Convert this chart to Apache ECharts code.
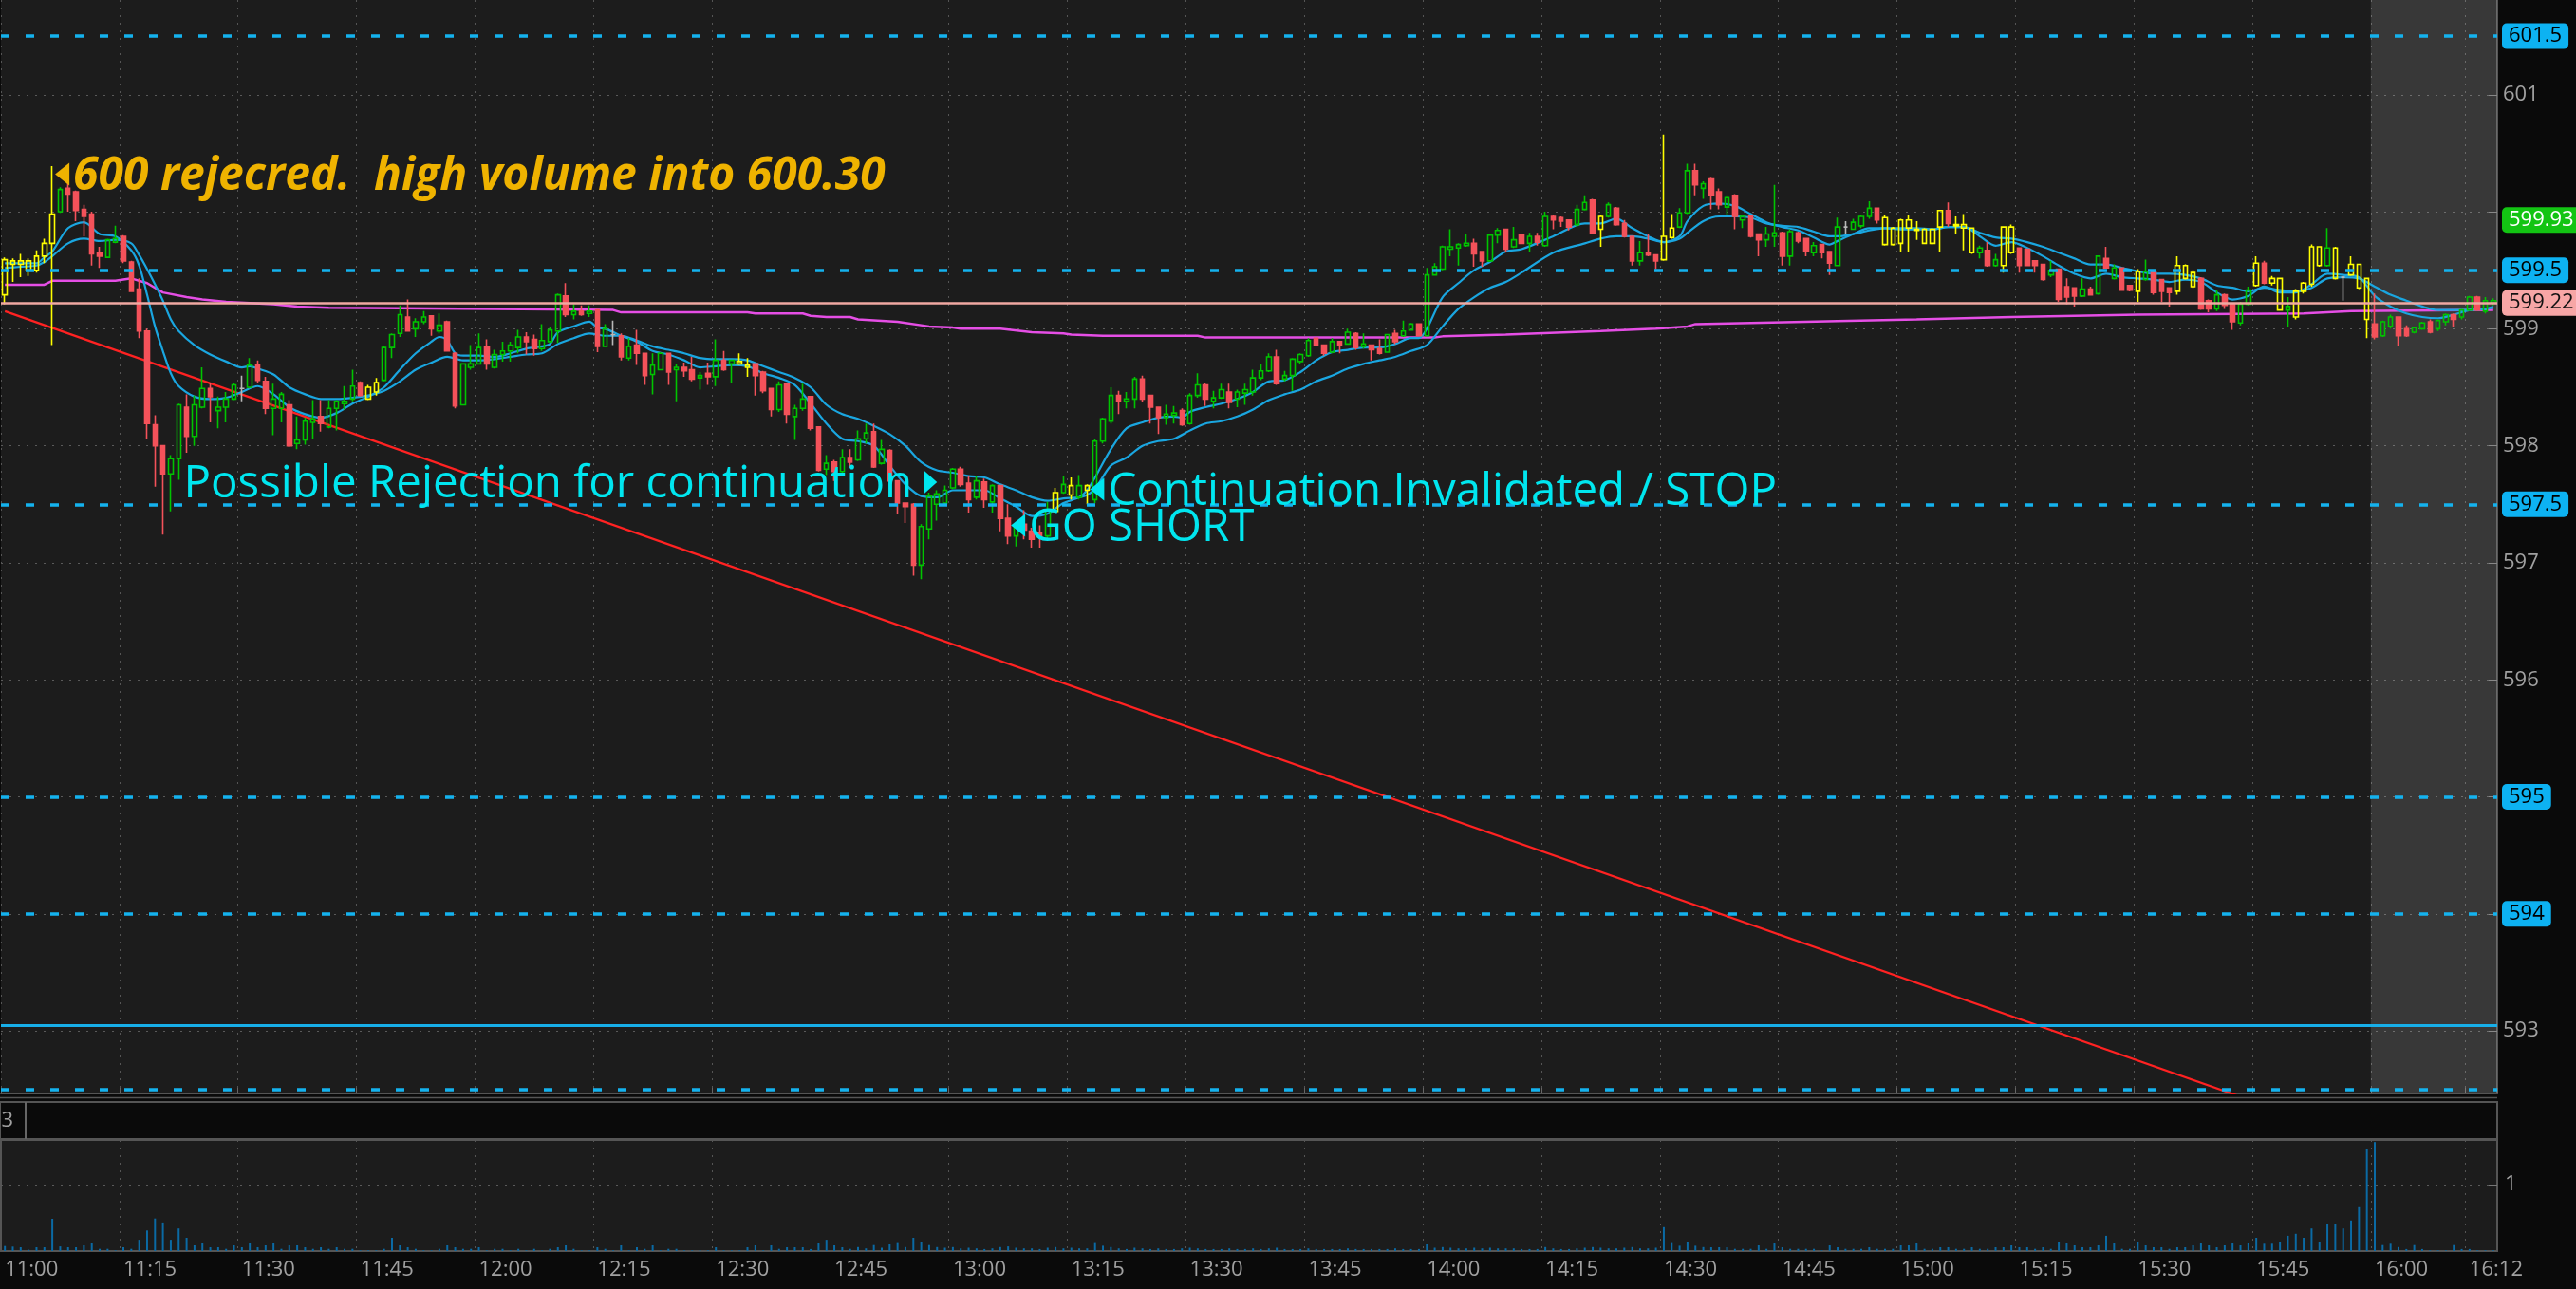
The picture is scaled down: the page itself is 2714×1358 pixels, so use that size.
<!DOCTYPE html>
<html><head><meta charset="utf-8">
<script src="https://cdn.jsdelivr.net/npm/echarts@6/dist/echarts.min.js"></script>
<style>html,body{margin:0;padding:0;background:#0a0a0a;overflow:hidden}#c{width:2714px;height:1358px}</style>
</head><body><div id="c"></div>
<script>
// ---------------- DATA ----------------
const sessionStart = '11:00';
const candleCount = 316;
const timeTickLabels = ['11:00','11:15','11:30','11:45','12:00','12:15','12:30','12:45','13:00','13:15','13:30','13:45','14:00','14:15','14:30','14:45','15:00','15:15','15:30','15:45','16:00','16:12'];

const open = [
599.29,599.58,599.55,599.50,599.50,599.62,599.73,600.00,600.20,600.17,
600.02,599.98,599.65,599.61,599.74,599.79,599.57,599.34,598.98,598.18,
598.00,597.76,597.89,598.33,598.08,598.33,598.49,598.30,598.33,598.40,
598.49,598.50,598.69,598.55,598.32,598.32,598.35,598.02,598.05,598.20,
598.25,598.16,598.32,598.36,598.40,598.54,598.40,598.46,598.56,598.84,
598.96,599.10,599.00,599.06,599.11,598.98,599.06,598.79,598.35,598.67,
598.70,598.85,598.67,598.78,598.81,598.84,598.93,598.91,598.83,598.89,
598.98,599.28,599.12,599.15,599.13,599.16,598.85,598.95,598.94,598.75,
598.86,598.79,598.61,598.65,598.79,598.65,598.67,598.65,598.58,598.62,
598.59,598.73,598.70,598.72,598.69,598.70,598.63,598.49,598.31,598.53,
598.25,598.32,598.42,598.16,597.80,597.86,597.78,597.90,597.88,598.06,
598.12,597.85,597.96,597.70,597.51,597.50,596.98,597.29,597.50,597.51,
597.64,597.80,597.68,597.56,597.69,597.52,597.66,597.38,597.23,597.33,
597.27,597.26,597.23,597.44,597.60,597.66,597.56,597.66,597.54,598.04,
598.21,598.43,598.38,598.40,598.57,598.43,598.33,598.24,598.26,598.30,
598.19,598.43,598.52,598.38,598.41,598.46,598.40,598.45,598.46,598.58,
598.64,598.76,598.57,598.60,598.72,598.77,598.92,598.86,598.80,598.89,
598.87,598.96,598.85,598.86,598.83,598.80,598.96,598.94,598.99,599.04,
598.94,599.46,599.51,599.68,599.69,599.71,599.73,599.66,599.58,599.80,
599.85,599.70,599.80,599.73,599.79,599.71,599.96,599.95,599.93,599.89,
600.02,600.10,599.85,599.96,600.03,599.90,599.79,599.58,599.65,599.63,
599.59,599.78,599.87,599.99,600.35,600.20,600.28,600.17,600.04,600.14,
599.93,599.97,599.81,599.76,599.79,599.82,599.62,599.82,599.77,599.65,
599.72,599.66,599.54,599.87,599.85,599.88,599.96,600.03,599.95,599.86,
599.73,599.93,599.85,599.85,599.73,599.87,600.01,599.88,599.89,599.86,
599.65,599.67,599.54,599.54,599.65,599.69,599.68,599.58,599.55,599.46,
599.51,599.36,599.35,599.28,599.34,599.30,599.60,599.43,599.52,599.37,
599.32,599.42,599.49,599.42,599.35,599.32,599.54,599.36,599.43,599.24,
599.17,599.29,599.21,599.05,599.21,599.37,599.56,599.43,599.43,599.16,
599.10,599.32,599.38,599.70,599.54,599.69,599.44,599.55,599.55,599.43,
599.04,598.94,599.02,599.10,599.00,598.97,599.00,599.06,599.00,599.06,
599.12,599.10,599.16,599.27,599.15,599.22];

const close = [
599.59,599.55,599.58,599.58,599.62,599.73,599.98,600.19,600.15,600.01,
599.96,599.64,599.62,599.76,599.77,599.58,599.32,598.98,598.19,598.00,
597.76,597.89,598.35,598.08,598.35,598.49,598.42,598.33,598.40,598.52,
598.49,598.69,598.56,598.32,598.40,598.44,598.00,598.05,598.21,598.23,
598.19,598.32,598.38,598.38,598.51,598.43,598.50,598.54,598.84,598.95,
599.12,598.98,599.06,599.10,599.00,599.03,598.81,598.34,598.70,598.70,
598.84,598.70,598.78,598.81,598.86,598.93,598.89,598.83,598.90,598.99,
599.29,599.12,599.15,599.12,599.15,598.85,599.00,598.95,598.76,598.85,
598.79,598.60,598.69,598.79,598.63,598.67,598.64,598.57,598.60,598.59,
598.73,598.65,598.73,598.70,598.67,598.60,598.47,598.31,598.52,598.27,
598.32,598.40,598.15,597.79,597.85,597.78,597.90,597.86,598.06,598.11,
597.82,597.97,597.70,597.51,597.48,596.98,597.31,597.57,597.59,597.62,
597.80,597.67,597.54,597.70,597.54,597.66,597.38,597.23,597.32,597.28,
597.20,597.22,597.45,597.60,597.67,597.58,597.66,597.62,598.04,598.23,
598.43,598.38,598.40,598.57,598.40,598.33,598.24,598.27,598.28,598.18,
598.43,598.52,598.40,598.41,598.48,598.37,598.46,598.48,598.58,598.64,
598.76,598.53,598.60,598.74,598.78,598.90,598.86,598.79,598.89,598.86,
598.97,598.84,598.87,598.82,598.79,598.95,598.89,598.98,599.04,598.94,
599.46,599.53,599.70,599.70,599.72,599.73,599.64,599.58,599.80,599.84,
599.68,599.76,599.73,599.79,599.74,599.96,599.93,599.92,599.87,600.02,
600.08,599.82,599.96,600.06,599.89,599.79,599.58,599.65,599.63,599.58,
599.79,599.86,599.99,600.35,600.23,600.24,600.14,600.06,600.12,599.96,
599.96,599.79,599.76,599.81,599.82,599.62,599.83,599.75,599.66,599.71,
599.65,599.56,599.87,599.87,599.91,599.96,600.03,599.93,599.72,599.72,
599.93,599.86,599.84,599.73,599.85,600.01,599.90,599.89,599.86,599.65,
599.69,599.54,599.59,599.87,599.87,599.54,599.54,599.54,599.42,599.50,
599.25,599.27,599.28,599.34,599.29,599.62,599.52,599.52,599.33,599.33,
599.49,599.49,599.31,599.32,599.31,599.54,599.43,599.48,599.17,599.17,
599.29,599.20,599.06,599.21,599.33,599.56,599.39,599.39,599.16,599.19,
599.32,599.39,599.70,599.54,599.69,599.43,599.44,599.46,599.35,599.08,
598.93,599.06,599.10,598.94,598.94,599.01,599.05,598.97,599.07,599.12,
599.08,599.16,599.27,599.16,599.24,599.24];

const low = [
599.21,599.40,599.44,599.45,599.48,599.56,598.86,599.99,600.00,599.92,
599.79,599.54,599.52,599.61,599.73,599.56,599.32,598.92,598.06,597.65,
597.24,597.44,597.71,597.94,598.00,598.32,598.20,598.15,598.20,598.39,
598.38,598.49,598.54,598.27,598.09,598.20,597.99,597.97,598.01,598.06,
598.12,598.15,598.13,598.31,598.38,598.42,598.39,598.43,598.55,598.75,
598.93,598.98,598.93,599.04,598.94,598.96,598.81,598.32,598.35,598.65,
598.70,598.65,598.66,598.72,598.72,598.79,598.78,598.77,598.81,598.88,
598.88,599.10,599.08,599.11,599.10,598.80,598.85,598.86,598.73,598.73,
598.69,598.52,598.44,598.65,598.52,598.38,598.59,598.55,598.48,598.52,
598.51,598.64,598.54,598.69,598.59,598.43,598.45,598.25,598.29,598.19,
598.05,598.30,598.13,597.78,597.75,597.70,597.77,597.81,597.87,598.02,
597.81,597.84,597.60,597.42,597.34,596.89,596.86,597.20,597.36,597.50,
597.63,597.65,597.43,597.54,597.47,597.43,597.27,597.16,597.14,597.20,
597.13,597.13,597.20,597.43,597.59,597.54,597.54,597.50,597.51,598.02,
598.19,598.27,598.32,598.32,598.37,598.19,598.10,598.18,598.19,598.17,
598.18,598.41,598.34,598.32,598.40,598.32,598.33,598.35,598.43,598.56,
598.63,598.52,598.55,598.47,598.70,598.76,598.85,598.77,598.79,598.79,
598.87,598.82,598.83,598.73,598.78,598.80,598.87,598.93,598.99,598.94,
598.94,599.46,599.50,599.62,599.54,599.70,599.53,599.53,599.57,599.73,
599.66,599.69,599.73,599.66,599.71,599.70,599.85,599.87,599.84,599.87,
600.01,599.81,599.70,599.95,599.88,599.78,599.54,599.54,599.62,599.51,
599.58,599.77,599.86,599.98,600.14,600.11,600.02,600.02,599.97,599.85,
599.86,599.78,599.62,599.70,599.70,599.54,599.54,599.73,599.62,599.62,
599.60,599.46,599.54,599.81,599.85,599.86,599.94,599.90,599.71,599.71,
599.66,599.66,599.76,599.73,599.72,599.66,599.87,599.81,599.67,599.64,
599.60,599.53,599.53,599.48,599.64,599.48,599.54,599.48,599.41,599.44,
599.23,599.21,599.19,599.27,599.29,599.29,599.52,599.42,599.33,599.32,
599.23,599.41,599.29,599.23,599.19,599.29,599.42,599.35,599.16,599.14,
599.15,599.17,598.99,599.03,599.20,599.36,599.38,599.37,599.16,599.01,
599.08,599.30,599.36,599.53,599.53,599.42,599.24,599.45,599.34,598.92,
598.91,598.93,599.00,598.85,598.93,598.96,598.99,598.96,598.98,599.03,
599.01,599.08,599.15,599.15,599.13,599.20];

const high = [
599.61,599.60,599.64,599.60,599.67,599.77,600.39,600.21,600.27,600.18,
600.06,600.00,599.70,599.77,599.88,599.80,599.58,599.43,599.00,598.26,
598.00,597.92,598.36,598.44,598.43,598.67,598.54,598.42,598.46,598.54,
598.60,598.75,598.73,598.59,598.53,598.46,598.39,598.25,598.24,598.39,
598.39,598.39,598.39,598.51,598.65,598.55,598.52,598.58,598.85,598.96,
599.20,599.25,599.09,599.15,599.11,599.13,599.07,598.80,598.70,598.86,
598.96,598.91,598.82,598.89,598.89,598.99,598.97,598.95,599.04,599.01,
599.30,599.39,599.21,599.20,599.20,599.17,599.04,599.07,598.96,598.92,
598.99,598.79,598.79,598.80,598.79,598.70,598.71,598.76,598.63,598.71,
598.91,598.81,598.73,598.79,598.75,598.70,598.64,598.49,598.55,598.54,
598.35,598.53,598.42,598.16,597.92,597.88,597.97,597.97,598.13,598.19,
598.19,598.05,597.97,597.70,597.51,597.51,597.33,597.60,597.62,597.66,
597.81,597.82,597.74,597.74,597.72,597.67,597.66,597.50,597.33,597.45,
597.30,597.32,597.52,597.64,597.74,597.73,597.75,597.67,598.06,598.24,
598.50,598.47,598.46,598.59,598.60,598.43,598.33,598.35,598.34,598.32,
598.45,598.62,598.54,598.47,598.53,598.53,598.48,598.53,598.65,598.70,
598.79,598.82,598.64,598.75,598.79,598.92,598.92,598.86,598.92,598.89,
599.00,598.97,598.96,598.86,598.91,598.95,598.99,599.07,599.05,599.04,
599.52,599.56,599.71,599.85,599.73,599.81,599.77,599.66,599.81,599.86,
599.85,599.87,599.81,599.82,599.82,600.00,599.97,599.96,599.93,600.06,
600.14,600.11,599.97,600.08,600.04,599.93,599.79,599.75,599.81,599.63,
600.66,599.98,600.03,600.41,600.41,600.26,600.29,600.20,600.14,600.15,
599.97,599.97,599.81,599.87,600.23,599.83,599.85,599.83,599.77,599.74,
599.72,599.66,599.95,599.92,599.94,599.97,600.09,600.03,599.97,599.87,
599.94,599.97,599.92,599.86,599.86,600.01,600.08,599.96,599.98,599.86,
599.71,599.74,599.64,599.87,599.89,599.69,599.68,599.58,599.55,599.58,
599.51,599.43,599.35,599.43,599.36,599.62,599.70,599.55,599.52,599.37,
599.51,599.59,599.49,599.42,599.35,599.62,599.55,599.50,599.44,599.25,
599.33,599.30,599.21,599.23,599.36,599.62,599.58,599.45,599.43,599.27,
599.34,599.40,599.72,599.70,599.86,599.70,599.45,599.62,599.55,599.43,
599.30,599.07,599.12,599.10,599.03,599.02,599.06,599.08,599.08,599.13,
599.13,599.17,599.28,599.28,599.27,599.26];

// candles drawn in yellow / gray
const yellowCandles = [0,1,2,3,4,5,6,46,47,93,94,133,135,137,202,210,211,238,239,240,241,242,243,244,245,247,248,249,253,254,270,275,276,277,285,287,288,290,291,292,293,295,297,298,299];
const grayCandles = [30,77,233,296];

const volume = [
0.076,0.067,0.057,0.02,0.057,0.057,0.486,0.07,0.057,0.057,
0.086,0.114,0.033,0.033,0.01,0.057,0.033,0.17,0.31,0.49,
0.43,0.17,0.34,0.2,0.086,0.114,0.057,0.057,0.033,0.086,
0.057,0.114,0.057,0.086,0.114,0.033,0.086,0.086,0.057,0.033,
0.057,0.033,0.057,0.033,0.033,0.01,0.01,0.01,0.033,0.2,
0.086,0.057,0.033,0.01,0.01,0.033,0.086,0.057,0.033,0.033,
0.057,0.01,0.033,0.033,0.01,0.033,0.01,0.033,0.01,0.033,
0.057,0.086,0.033,0.01,0.01,0.057,0.033,0.01,0.086,0.01,
0.057,0.033,0.086,0.01,0.033,0.033,0.01,0.01,0.01,0.01,
0.057,0.01,0.01,0.01,0.057,0.086,0.01,0.086,0.033,0.057,
0.057,0.057,0.03,0.114,0.17,0.086,0.057,0.033,
0.06,0.04,0.09,0.05,0.1,0.12,0.06,0.2,0.14,0.09,
0.06,0.05,0.06,0.04,0.05,0.04,0.03,0.04,0.06,0.07,
0.05,0.04,0.04,0.03,0.05,0.06,0.04,0.05,0.04,0.04,
0.12,0.08,0.06,0.04,0.03,0.05,0.04,0.03,0.04,0.03,
0.03,0.04,0.05,0.04,0.03,0.03,0.03,0.04,0.03,0.03,
0.04,0.03,0.04,0.05,0.03,0.03,0.03,0.04,0.03,0.03,
0.03,0.03,0.04,0.03,0.03,0.03,0.03,0.03,0.04,0.03,
0.03,0.03,0.1,0.05,0.06,0.05,0.04,0.04,0.05,0.04,
0.05,0.04,0.04,0.04,0.03,0.03,0.03,0.06,0.04,0.03,
0.03,0.04,0.05,0.06,0.05,0.04,0.04,0.05,0.06,0.04,
0.04,0.05,0.36,0.12,0.08,0.14,0.08,0.06,
0.057,0.057,0.057,0.033,0.033,0.033,0.086,0.033,0.114,0.057,
0.033,0.033,0.033,0.033,0.01,0.086,0.057,0.033,0.033,0.033,
0.057,0.033,0.033,0.033,0.086,0.086,0.114,0.033,0.033,0.057,
0.057,0.033,0.033,0.057,0.033,0.033,0.057,0.057,0.086,0.057,
0.057,0.033,0.057,0.033,0.14,0.114,0.086,0.057,0.057,0.086,
0.23,0.114,0.033,0.033,0.14,0.086,0.057,0.057,0.033,0.057,
0.057,0.086,0.114,0.086,0.057,0.086,0.114,0.086,0.114,0.2,
0.11,0.11,0.14,0.23,0.26,0.2,0.34,0.14,0.4,0.4,
0.34,0.46,0.66,1.54,1.64,0.09,0.11,0.06,0.03,0.09,
0.03,0.01,0.01,0.01,0.09,0.03,0.03,0.01,0.01,0.01];

// moving averages: [candle index, price]
const emaFast = [[0,599.56],[2,599.56],[4,599.56],[5,599.61],[6,599.66],[8,599.86],[10,599.91],[12,599.81],[14,599.79],[16,599.67],[17,599.54],[18,599.29],[19,599.02],[20,598.81],[21,598.62],[22,598.51],[24,598.42],[26,598.40],[28,598.41],[30,598.46],[32,598.51],[34,598.44],[36,598.33],[38,598.27],[40,598.24],[42,598.28],[44,598.36],[46,598.42],[48,598.50],[50,598.65],[52,598.79],[54,598.89],[55,598.93],[56,598.90],[57,598.79],[58,598.77],[60,598.77],[62,598.76],[64,598.79],[66,598.83],[68,598.85],[69,598.87],[70,598.97],[72,599.02],[74,599.06],[75,599.01],[76,599.00],[78,598.94],[80,598.89],[82,598.81],[84,598.78],[86,598.73],[88,598.67],[90,598.68],[92,598.69],[94,598.68],[96,598.62],[98,598.58],[100,598.52],[102,598.36],[104,598.19],[106,598.06],[108,598.04],[110,598.00],[112,597.83],[114,597.67],[116,597.57],[118,597.56],[120,597.62],[122,597.62],[124,597.62],[126,597.55],[128,597.48],[130,597.40],[132,597.42],[134,597.51],[136,597.56],[137,597.62],[138,597.73],[140,597.97],[142,598.15],[144,598.20],[146,598.24],[148,598.25],[149,598.24],[150,598.29],[152,598.33],[154,598.36],[156,598.40],[158,598.46],[160,598.55],[162,598.56],[164,598.63],[166,598.73],[168,598.80],[170,598.82],[172,598.84],[174,598.84],[176,598.87],[178,598.92],[179,598.92],[180,599.00],[182,599.27],[184,599.39],[186,599.50],[188,599.57],[190,599.66],[192,599.68],[196,599.79],[200,599.90],[202,599.90],[204,599.94],[206,599.86],[208,599.79],[210,599.74],[212,599.79],[213,599.92],[215,600.05],[217,600.07],[219,600.05],[221,599.98],[223,599.91],[225,599.87],[227,599.84],[229,599.78],[231,599.72],[232,599.75],[234,599.81],[236,599.86],[238,599.86],[240,599.85],[242,599.85],[244,599.85],[246,599.87],[248,599.87],[250,599.79],[252,599.71],[254,599.74],[256,599.69],[258,599.62],[260,599.54],[262,599.47],[264,599.43],[266,599.47],[268,599.44],[270,599.43],[272,599.42],[274,599.40],[276,599.42],[278,599.40],[280,599.31],[282,599.25],[284,599.28],[286,599.36],[288,599.31],[290,599.31],[292,599.38],[294,599.47],[296,599.46],[298,599.44],[300,599.28],[302,599.19],[304,599.13],[306,599.10],[308,599.09],[310,599.12],[312,599.16],[314,599.17],[315,599.19]];
const emaSlow = [[0,599.52],[2,599.53],[4,599.54],[5,599.57],[6,599.62],[8,599.73],[10,599.77],[12,599.75],[14,599.76],[16,599.73],[17,599.63],[18,599.51],[19,599.38],[20,599.24],[21,599.08],[22,598.98],[24,598.86],[26,598.78],[28,598.72],[30,598.67],[31,598.68],[32,598.66],[34,598.61],[36,598.50],[38,598.44],[40,598.40],[42,598.40],[44,598.41],[46,598.43],[48,598.47],[50,598.55],[52,598.65],[54,598.71],[56,598.76],[58,598.73],[60,598.73],[62,598.74],[64,598.76],[66,598.78],[68,598.79],[70,598.87],[72,598.92],[74,598.96],[76,598.94],[78,598.94],[80,598.90],[82,598.85],[84,598.82],[86,598.79],[88,598.75],[90,598.74],[92,598.74],[94,598.73],[96,598.68],[98,598.63],[100,598.58],[102,598.50],[104,598.35],[106,598.27],[108,598.23],[110,598.17],[112,598.10],[114,598.00],[116,597.86],[118,597.79],[120,597.77],[122,597.74],[124,597.73],[126,597.67],[128,597.62],[130,597.56],[132,597.53],[134,597.55],[136,597.56],[137,597.58],[138,597.63],[140,597.83],[142,597.90],[144,598.00],[146,598.04],[148,598.06],[150,598.13],[152,598.19],[154,598.21],[156,598.25],[158,598.31],[160,598.39],[162,598.44],[164,598.48],[166,598.55],[168,598.60],[170,598.66],[172,598.70],[174,598.73],[176,598.76],[178,598.81],[180,598.86],[182,599.02],[184,599.17],[186,599.27],[188,599.35],[190,599.40],[192,599.48],[196,599.65],[200,599.73],[202,599.77],[204,599.79],[206,599.79],[208,599.77],[210,599.74],[212,599.77],[213,599.82],[215,599.92],[217,599.96],[219,599.96],[221,599.95],[223,599.90],[225,599.88],[227,599.87],[229,599.83],[231,599.79],[232,599.79],[234,599.81],[236,599.84],[238,599.86],[240,599.86],[242,599.86],[244,599.85],[246,599.87],[248,599.87],[250,599.82],[252,599.78],[254,599.77],[256,599.74],[258,599.70],[260,599.65],[262,599.60],[264,599.55],[266,599.55],[268,599.52],[270,599.49],[272,599.47],[274,599.47],[276,599.46],[278,599.43],[280,599.37],[282,599.35],[284,599.32],[286,599.35],[288,599.33],[290,599.32],[292,599.35],[294,599.43],[296,599.44],[298,599.43],[300,599.36],[302,599.29],[304,599.24],[306,599.19],[308,599.16],[310,599.16],[312,599.16],[314,599.17],[315,599.18]];
const vwap = [[0,599.376],[5,599.376],[6,599.41],[14,599.41],[16,599.43],[18,599.39],[20,599.31],[23,599.27],[25,599.25],[28,599.23],[34,599.21],[37,599.19],[41,599.18],[50,599.175],[77,599.16],[78,599.14],[94,599.14],[95,599.13],[101,599.13],[102,599.11],[104,599.10],[107,599.10],[108,599.08],[113,599.06],[117,599.02],[120,599.01],[121,599.00],[126,599.00],[130,598.97],[134,598.96],[135,598.95],[139,598.94],[151,598.94],[152,598.925],[181,598.925],[182,598.935],[190,598.95],[198,598.97],[202,598.98],[209,599.00],[213,599.02],[214,599.04],[221,599.05],[232,599.065],[242,599.08],[254,599.10],[270,599.12],[291,599.13],[297,599.15],[315,599.16]];
const trendLine = [[0,599.15],[315,591.68]];

const dashedLevels = [601.5, 599.5, 597.5, 595, 594, 592.5];
const boxedLevels = [601.5, 599.5, 597.5, 595, 594];
const supportLevel = 593.05;
const prevCloseLevel = 599.22;
const lastPriceLevel = 599.93;
const priceAxisLabels = [593, 596, 597, 598, 599, 601];
const priceGridValues = [593, 594, 595, 596, 597, 598, 599, 600, 601];

const notes = [
  {text: '600 rejecred.  high volume into 600.30', k: 6, v: 600.32, dir: 'left', color: '#efb300', bold: true},
  {text: 'Possible Rejection for continuation', k: 118, v: 597.69, dir: 'right', color: '#00e6ef'},
  {text: 'Continuation Invalidated / STOP', k: 137, v: 597.628, dir: 'left', color: '#00e6ef'},
  {text: 'GO SHORT', k: 127, v: 597.32, dir: 'left', color: '#00e6ef'}
];

// ---------------- CHART ----------------
const FONT = '"Open Sans","Noto Sans",sans-serif';
const YEL = '#ffff00', GRY = '#b8b8b8', UP = '#00c400', DN = '#f4525a';
const [sh, sm] = sessionStart.split(':').map(Number);
const cats = [];
for (let k = 0; k < candleCount; k++) {
  const m = sh * 60 + sm + k;
  cats.push(Math.floor(m / 60) + ':' + String(m % 60).padStart(2, '0'));
}
const showTick = (i) => timeTickLabels.indexOf(cats[i]) >= 0;

const candleData = open.map((o, i) => {
  const item = {value: [o, close[i], low[i], high[i]]};
  if (yellowCandles.includes(i)) item.itemStyle = {color: 'transparent', color0: YEL, borderColor: YEL, borderColor0: YEL, borderColorDoji: YEL};
  else if (grayCandles.includes(i)) item.itemStyle = {color: GRY, color0: GRY, borderColor: GRY, borderColor0: GRY, borderColorDoji: GRY};
  return item;
});

const boxLabel = (bg, fg) => ({show: true, position: 'end', distance: 5, formatter: '{c}', color: fg,
  backgroundColor: bg, borderRadius: 5, padding: [2, 7, 1, 7], fontSize: 22, lineHeight: 24, fontFamily: FONT});

const markLines = [];
dashedLevels.forEach(v => markLines.push({yAxis: v,
  lineStyle: {color: '#14b2ee', width: 3.6, type: [9, 17]},
  label: boxedLevels.includes(v) ? boxLabel('#0db2f2', '#000') : {show: false}}));
markLines.push({yAxis: supportLevel, lineStyle: {color: '#17aee8', width: 3, type: 'solid'}, label: {show: false}});
markLines.push({yAxis: prevCloseLevel, lineStyle: {color: '#f0a8a2', width: 2.5, type: 'solid'}, label: boxLabel('#f7a6a6', '#111')});
markLines.push({yAxis: lastPriceLevel, lineStyle: {color: 'transparent', width: 0}, label: boxLabel('#13c413', '#fff')});

const dotted = {color: '#5a5a5a', width: 1, type: [2, 7]};

const option = {
  animation: false,
  backgroundColor: '#0a0a0a',
  grid: [
    {left: 1, top: 0, width: 2630, height: 1152, show: true, backgroundColor: '#1c1c1c', borderWidth: 0},
    {left: 1, top: 1201, width: 2630, height: 117, show: true, backgroundColor: '#1c1c1c', borderColor: '#555', borderWidth: 2}
  ],
  xAxis: [
    {type: 'category', gridIndex: 0, data: cats, boundaryGap: true,
     axisLine: {show: true, lineStyle: {color: '#555', width: 2}},
     axisTick: {show: true, inside: true, length: 6, interval: showTick, lineStyle: {color: '#666'}},
     axisLabel: {show: false},
     splitLine: {show: true, interval: showTick, lineStyle: {color: '#555', width: 1, type: [2, 6]}}},
    {type: 'category', gridIndex: 1, data: cats, boundaryGap: true,
     axisLine: {show: true, lineStyle: {color: '#555', width: 2}},
     axisTick: {show: false},
     axisLabel: {show: true, interval: showTick, align: 'left', color: '#a0a0a0', fontSize: 22, fontFamily: FONT, margin: 9},
     splitLine: {show: true, interval: showTick, lineStyle: {color: '#555', width: 1, type: [2, 6]}}}
  ],
  yAxis: [
    {type: 'value', gridIndex: 0, position: 'right', min: 592.466, max: 601.809,
     axisLine: {show: true, lineStyle: {color: '#555', width: 2}},
     axisTick: {show: true, inside: true, length: 9, customValues: priceGridValues, lineStyle: {color: '#777'}},
     axisLabel: {show: true, customValues: priceAxisLabels, color: '#a0a0a0', fontSize: 22, fontFamily: FONT, margin: 6},
     splitLine: {show: true, lineStyle: dotted}},
    {type: 'value', gridIndex: 1, position: 'right', min: 0, max: 1.671,
     axisLine: {show: true, lineStyle: {color: '#555', width: 2}},
     axisTick: {show: true, inside: true, length: 9, customValues: [1], lineStyle: {color: '#777'}},
     axisLabel: {show: true, customValues: [1], color: '#a0a0a0', fontSize: 22, fontFamily: FONT, margin: 8},
     splitLine: {show: true, lineStyle: dotted}}
  ],
  series: [
    {type: 'bar', xAxisIndex: 1, yAxisIndex: 1, data: volume, barWidth: 2, itemStyle: {color: '#0b6aa4'}, z: 2},
    {type: 'line', xAxisIndex: 0, yAxisIndex: 0, data: trendLine, symbol: 'none', clip: true,
     lineStyle: {color: '#ff2222', width: 2.2}, z: 3},
    {type: 'line', xAxisIndex: 0, yAxisIndex: 0, data: vwap, symbol: 'none', clip: false,
     lineStyle: {color: '#e54ee5', width: 2.5}, z: 3,
     markLine: {symbol: ['none', 'none'], silent: true, animation: false, data: markLines}},
    {type: 'line', xAxisIndex: 0, yAxisIndex: 0, data: emaSlow, symbol: 'none', smooth: 0.3,
     lineStyle: {color: '#1aa6e0', width: 2.2}, z: 3},
    {type: 'line', xAxisIndex: 0, yAxisIndex: 0, data: emaFast, symbol: 'none', smooth: 0.3,
     lineStyle: {color: '#1aa6e0', width: 2.2}, z: 3},
    {type: 'candlestick', xAxisIndex: 0, yAxisIndex: 0, data: candleData, barWidth: 5, z: 4,
     itemStyle: {color: 'transparent', color0: DN, borderColor: UP, borderColor0: DN, borderColorDoji: GRY, borderWidth: 1.6}}
  ]
};

const chart = echarts.init(document.getElementById('c'));
chart.setOption(option);

// overlays positioned through the chart's own scales
const px = (k, v) => chart.convertToPixel({xAxisIndex: 0, yAxisIndex: 0}, [k, v]);
const g = [];
const postStart = cats.indexOf('16:00');
const xBoundary = (px(postStart - 1, 599)[0] + px(postStart, 599)[0]) / 2;
const band = px(1, 599)[0] - px(0, 599)[0];
const xRight = px(candleCount - 1, 599)[0] + band / 2;
const yTop = px(0, 601.809)[1], yBottom = px(0, 592.466)[1];
g.push({type: 'rect', z: 1, silent: true, shape: {x: xBoundary, y: yTop, width: xRight - xBoundary, height: yBottom - yTop},
  style: {fill: 'rgba(255,255,255,0.125)'}});

notes.forEach(n => {
  const [ax, ay] = px(n.k, n.v);
  let pts, tx, align;
  if (n.dir === 'left') {
    pts = [[ax + 3, ay], [ax + 18, ay - 12], [ax + 18, ay + 12]];
    tx = ax + 22; align = 'left';
  } else {
    pts = [[ax, ay], [ax - 14, ay - 12.5], [ax - 14, ay + 12.5]];
    tx = ax - 26; align = 'right';
  }
  g.push({type: 'polygon', z: 10, silent: true, shape: {points: pts}, style: {fill: n.color}});
  g.push({type: 'text', z: 10, silent: true, x: tx, y: ay + 3,
    style: {text: n.text, fill: n.color, fontSize: n.bold ? 48 : 47.5, fontFamily: FONT,
      fontWeight: n.bold ? 'bold' : 'normal', fontStyle: n.bold ? 'italic' : 'normal',
      align: align, verticalAlign: 'middle'}});
});

// panel separator strip
g.push({type: 'line', z: 5, silent: true, shape: {x1: 0, y1: 1156.5, x2: xRight, y2: 1156.5}, style: {stroke: '#555', lineWidth: 1.5}});
g.push({type: 'rect', z: 5, silent: true, shape: {x: 0, y: 1161, width: xRight, height: 39}, style: {fill: '#0a0a0a', stroke: '#555', lineWidth: 2}});
g.push({type: 'line', z: 6, silent: true, shape: {x1: 27, y1: 1161, x2: 27, y2: 1200}, style: {stroke: '#666', lineWidth: 2}});
g.push({type: 'text', z: 6, silent: true, x: 14, y: 1181, style: {text: '3', fill: '#a0a0a0', fontSize: 22, fontFamily: FONT, align: 'right', verticalAlign: 'middle'}});

chart.setOption({graphic: g});
</script>
</body></html>
